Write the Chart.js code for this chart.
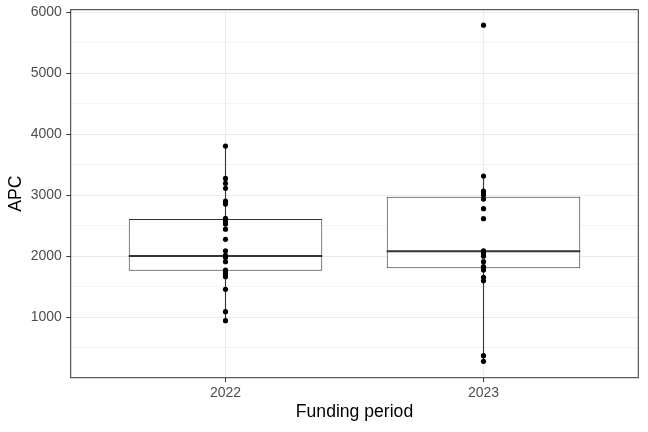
<!DOCTYPE html>
<html>
<head>
<meta charset="utf-8">
<script src="https://cdn.jsdelivr.net/npm/chart.js@4/dist/chart.umd.min.js"></script>
<style>
html,body{margin:0;padding:0;background:#fff;}
#wrap{width:648px;height:432px;}
</style>
</head>
<body>
<div id="wrap"><canvas id="c" width="648" height="432"></canvas></div>
<script>
// ---- data ----
const categories = ['2022', '2023'];
const apc2022 = [3805, 3276, 3195, 3113, 2905, 2880, 2855, 2621, 2595, 2560, 2528, 2444, 2277, 2090, 2015, 2000, 1983, 1911, 1775, 1750, 1725, 1700, 1665, 1459, 1092, 944];
const apc2023 = [5787, 3314, 3069, 3040, 3003, 2937, 2779, 2615, 2090, 2070, 2040, 2000, 1911, 1829, 1800, 1775, 1655, 1599, 371, 279];
const boxLow    = [944, 279];
const boxQ1     = [1763, 1802];
const boxMedian = [2004, 2081];
const boxQ3     = [2610, 2975];
const boxHigh   = [3805, 3314];
const yTickValues = [500, 1000, 1500, 2000, 2500, 3000, 3500, 4000, 4500, 5000, 5500, 6000];
const yTickLabels = ['', '1000', '', '2000', '', '3000', '', '4000', '', '5000', '', '6000'];
const xTitle = 'Funding period';
const yTitle = 'APC';

const series = [apc2022, apc2023];
const DARK = '#333333';
const GRID = '#EBEBEB';
const TICKCOL = '#4D4D4D';
const FONT = "'Liberation Sans', Arial, sans-serif";

const datasets = [];
categories.forEach((c, i) => {
  datasets.push({
    type: 'line',
    label: 'whisker ' + c,
    data: [{x: i + 1, y: boxLow[i]}, {x: i + 1, y: boxHigh[i]}],
    borderColor: DARK,
    borderWidth: 1.1,
    pointRadius: 0,
    fill: false,
    order: 3
  });
});
datasets.push({
  type: 'bar',
  label: 'box',
  data: categories.map((c, i) => ({x: i + 1, y: [boxQ1[i], boxQ3[i]]})),
  backgroundColor: '#ffffff',
  borderColor: DARK,
  borderWidth: 1,
  borderSkipped: false,
  categoryPercentage: 1,
  barPercentage: 0.75,
  order: 2
});
categories.forEach((c, i) => {
  datasets.push({
    type: 'scatter',
    label: 'points ' + c,
    data: series[i].map(v => ({x: i + 1, y: v})),
    backgroundColor: '#000000',
    borderWidth: 0,
    pointRadius: 2.6,
    order: 1
  });
});

const medianPlugin = {
  id: 'medianLines',
  afterDatasetDraw(chart, args) {
    if (args.meta.type !== 'bar') return;
    const ctx = chart.ctx;
    const ys = chart.scales.y;
    ctx.save();
    ctx.strokeStyle = DARK;
    ctx.lineWidth = 2.1;
    args.meta.data.forEach((el, i) => {
      const py = ys.getPixelForValue(boxMedian[i]);
      ctx.beginPath();
      ctx.moveTo(el.x - el.width / 2, py);
      ctx.lineTo(el.x + el.width / 2, py);
      ctx.stroke();
    });
    ctx.restore();
  }
};

const borderPlugin = {
  id: 'panelBorder',
  afterDraw(chart) {
    const a = chart.chartArea;
    const ctx = chart.ctx;
    ctx.save();
    ctx.strokeStyle = DARK;
    ctx.lineWidth = 1;
    ctx.strokeRect(a.left, a.top, a.right - a.left, a.bottom - a.top);
    ctx.restore();
  }
};

new Chart(document.getElementById('c'), {
  type: 'scatter',
  data: {datasets},
  plugins: [medianPlugin, borderPlugin],
  options: {
    responsive: false,
    animation: false,
    devicePixelRatio: 1,
    layout: {padding: {left: 0, right: 9.7, top: 9.7, bottom: 0}},
    plugins: {legend: {display: false}, tooltip: {enabled: false}},
    scales: {
      x: {
        type: 'linear',
        min: 0.4,
        max: 2.6,
        offset: false,
        afterBuildTicks: s => { s.ticks = categories.map((c, i) => ({value: i + 1})); },
        afterFit: s => { s.height = 432 - 377.7; s.paddingLeft = 0; s.paddingRight = 0; },
        ticks: {
          autoSkip: false,
          maxRotation: 0,
          padding: 3,
          color: TICKCOL,
          font: {family: FONT, size: 14},
          callback: (v) => categories[Math.round(v) - 1] || ''
        },
        grid: {offset: false, color: GRID, lineWidth: 1.07, tickLength: 4.4, tickColor: DARK, tickWidth: 1},
        border: {display: false},
        title: {display: true, text: xTitle, color: '#000', font: {family: FONT, size: 17.6}, padding: {top: 0, bottom: 9.5}}
      },
      y: {
        type: 'linear',
        min: 10,
        max: 6040,
        afterBuildTicks: s => { s.ticks = yTickValues.map(v => ({value: v})); },
        afterFit: s => { s.width = 70.7; s.paddingTop = 0; s.paddingBottom = 0; },
        ticks: {
          autoSkip: false,
          padding: 4.5,
          color: TICKCOL,
          font: {family: FONT, size: 14},
          callback: (v) => yTickLabels[yTickValues.indexOf(v)]
        },
        grid: {
          color: GRID,
          lineWidth: ctx => (yTickLabels[ctx.index] ? 1.07 : 0.53),
          tickLength: 4.4,
          tickColor: ctx => (yTickLabels[ctx.index] ? DARK : 'rgba(0,0,0,0)'),
          tickWidth: 1
        },
        border: {display: false},
        title: {display: true, text: yTitle, color: '#000', font: {family: FONT, size: 17.6}, padding: {top: 6, bottom: 0}}
      }
    }
  }
});
</script>
</body>
</html>
